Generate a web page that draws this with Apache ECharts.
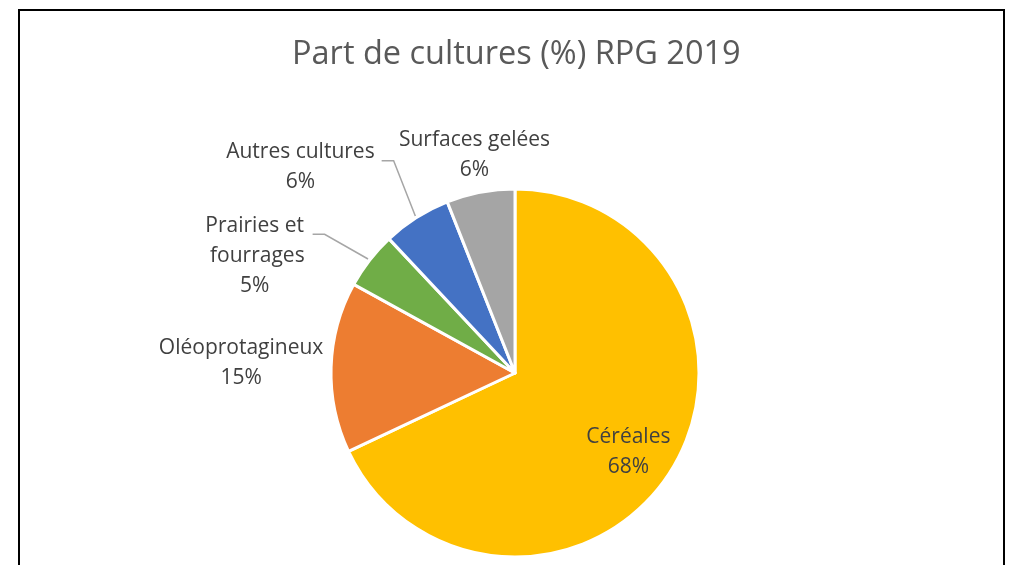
<!DOCTYPE html>
<html>
<head>
<meta charset="utf-8">
<title>Part de cultures (%) RPG 2019</title>
<script src="https://cdn.jsdelivr.net/npm/echarts@6/dist/echarts.min.js"></script>
<style>
  html, body { margin: 0; padding: 0; background: #ffffff; }
  #chart { width: 1009px; height: 565px; }
</style>
</head>
<body>
<div id="chart"></div>
<script>
// Crop shares, RPG 2019 (percent of declared area)
const categories = ['Céréales', 'Oléoprotagineux', 'Prairies et fourrages', 'Autres cultures', 'Surfaces gelées'];
const shares = [68, 15, 5, 6, 6];
const colors = ['#FFC000', '#ED7D31', '#70AD47', '#4472C4', '#A5A5A5'];

// Pie geometry
const CX = 515, CY = 373, R = 184;
const FONT = '"Open Sans", Lato, sans-serif';

// Label placement relative to the slice's outer edge at its mid-angle
const labelShift = [[-42, -20], [-90, -4], [-115, -4], [-116, -51], [-6, -37]];
// Which labels get a leader line
const leader = [false, false, true, true, false];

const total = shares.reduce((a, b) => a + b, 0);
const midAngles = [];
{
  let acc = 0;
  shares.forEach(v => {
    midAngles.push((acc + v / 2) / total * 2 * Math.PI); // clockwise from 12 o'clock
    acc += v;
  });
}
function onCircle(i, r) {
  const a = midAngles[i];
  return [CX + r * Math.sin(a), CY - r * Math.cos(a)];
}

const chart = echarts.init(document.getElementById('chart'), null, { renderer: 'canvas' });

chart.setOption({
  animation: false,
  backgroundColor: '#ffffff',
  title: {
    text: 'Part de cultures (%) RPG 2019',
    left: 287,
    top: 33,
    textStyle: { fontFamily: FONT, fontSize: 32.5, fontWeight: 'normal', color: '#595959' }
  },
  graphic: [{
    type: 'rect',
    shape: { x: 19, y: 10, width: 985, height: 600 },
    style: { fill: 'none', stroke: '#000000', lineWidth: 2 },
    silent: true
  }],
  series: [{
    type: 'pie',
    center: [CX, CY],
    radius: R,
    startAngle: 90,
    clockwise: true,
    avoidLabelOverlap: false,
    itemStyle: { borderColor: '#ffffff', borderWidth: 3 },
    label: {
      show: true,
      formatter: '{b}\n{d}%',
      fontFamily: FONT,
      fontSize: 21,
      lineHeight: 30,
      color: '#404040',
      align: 'center'
    },
    labelLine: { show: true, lineStyle: { color: '#A6A6A6', width: 1.5 }, length: 20, length2: 10 },
    labelLayout: function (p) {
      const i = p.dataIndex;
      const edge = onCircle(i, R);
      const lx = edge[0] + labelShift[i][0];
      const ly = edge[1] + labelShift[i][1];
      const out = { x: lx, y: ly, align: 'center', verticalAlign: 'middle' };
      if (leader[i]) {
        const w = p.labelRect.width;
        const start = onCircle(i, R + 2);
        const endX = lx + w / 2 + 7;
        const endY = ly - (i === 2 ? 22 : 6);
        out.labelLinePoints = [start, [endX + 12, endY], [endX, endY]];
      }
      return out;
    },
    data: categories.map((name, i) => ({
      name: name,
      value: shares[i],
      itemStyle: { color: colors[i] },
      label: i === 0 ? { position: 'inside' }
        : (i === 2 ? { position: 'outside', width: 102, overflow: 'break' } : { position: 'outside' }),
      labelLine: { show: leader[i] }
    }))
  }]
});
</script>
</body>
</html>
